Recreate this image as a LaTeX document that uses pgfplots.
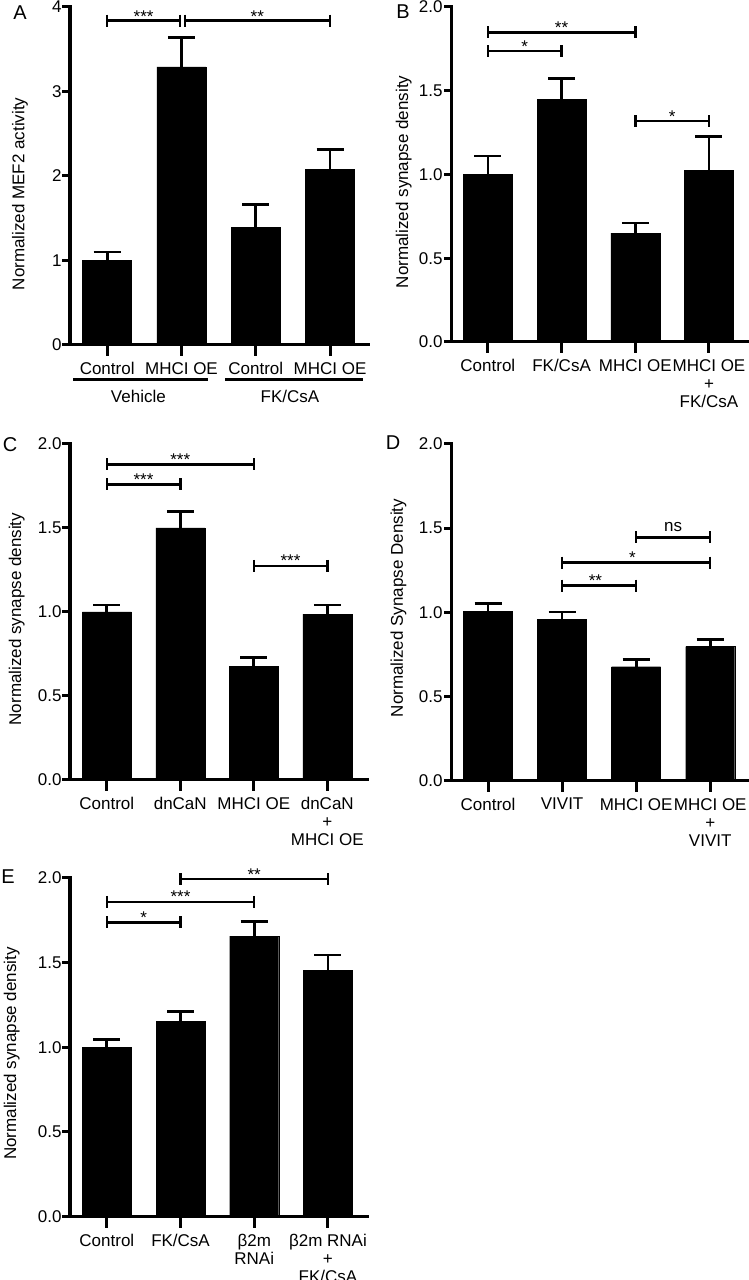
\documentclass[border=0pt]{standalone}
\usepackage{fontspec}
\setmainfont{Liberation Sans}
\usepackage{pgfplots}
\pgfplotsset{compat=1.18}
\newcommand\lbl{\fontsize{17bp}{18bp}\selectfont}
\newcommand\pl{\fontsize{20bp}{22bp}\selectfont}
\pgfplotsset{
  gp/.style={
    scale only axis,
    axis line style={draw=none},
    clip=false,
    ymin=0, xmin=-0.5,
    xtick={0,1,2,3},
    xtick pos=left, ytick pos=left,
    major tick length=0bp,
    /pgf/number format/assume math mode=true,
    tick label style={font=\lbl,fill=none},
    label style={font=\lbl},
    xticklabel style={align=center,yshift=-14bp},
    yticklabel style={xshift=-5bp,/pgf/number format/fixed,/pgf/number format/precision=1,/pgf/number format/fixed zerofill},
  },
  ticksA/.style={after end axis/.code={%
    \draw[line width=3bp,line cap=rect] (rel axis cs:0,1) -- (rel axis cs:0,0) -- (rel axis cs:1,0);
    \pgfplotsinvokeforeach{0,1,2,3}{\draw[line width=3bp] (axis cs:####1,0) -- ++(0bp,-11.5bp);}
    \pgfplotsinvokeforeach{0,1,2,3,4}{\draw[line width=3bp] (axis cs:-0.5,####1) -- ++(-7.5bp,0bp);}}},
  ticksB/.style={after end axis/.code={%
    \draw[line width=3bp,line cap=rect] (rel axis cs:0,1) -- (rel axis cs:0,0) -- (rel axis cs:1,0);
    \pgfplotsinvokeforeach{0,1,2,3}{\draw[line width=3bp] (axis cs:####1,0) -- ++(0bp,-11.5bp);}
    \pgfplotsinvokeforeach{0,0.5,1,1.5,2}{\draw[line width=3bp] (axis cs:-0.5,####1) -- ++(-7.5bp,0bp);}}},
  bars/.style={ybar, bar width=49bp, fill=black, draw=black, line width=0.4bp,
    error bars/.cd, y dir=plus, y explicit,
    error bar style={line width=2.7bp,black},
    error mark options={rotate=90,line width=2.7bp,black,mark size=13.5bp}},
  sig/.style={sharp plot, black, line width=2.5bp, mark=|, mark size=6bp, mark options={solid,line width=2.5bp}, forget plot},
}
\begin{document}
\begin{tikzpicture}
\useasboundingbox (0bp,0bp) rectangle (749bp,1280bp);
% ---------------- A
\begin{axis}[gp, ticksA, at={(70bp,935bp)}, anchor=south west, width=298bp, height=338bp,
  xmax=3.51, ymax=4, ytick={0,1,2,3,4},
  yticklabel style={/pgf/number format/precision=0,/pgf/number format/fixed zerofill=false},
  xticklabels={Control, MHCI OE, Control, MHCI OE},
  ylabel={Normalized MEF2 activity},
  ylabel style={at={(rel axis cs:-0.168,0.447)}, anchor=center}]
\addplot[bars] table[x=x,y=y,y error=e]{
x y e
0 1.00 0.10
1 3.29 0.35
2 1.39 0.27
3 2.08 0.23
};
\addplot[sig] coordinates {(0,3.84) (0.98,3.84)};
\addplot[sig] coordinates {(1.05,3.84) (3,3.84)};
\node[anchor=base,font=\lbl] at (axis cs:0.49,3.82) {***};
\node[anchor=base,font=\lbl] at (axis cs:2.02,3.82) {**};
\draw[line width=3bp] (axis cs:-0.457,-0.414) -- (axis cs:1.357,-0.414);
\draw[line width=3bp] (axis cs:1.586,-0.414) -- (axis cs:3.44,-0.414);
\node[font=\lbl] at (axis cs:0.42,-0.604) {Vehicle};
\node[font=\lbl] at (axis cs:2.46,-0.604) {FK/CsA};
\end{axis}
% ---------------- B
\begin{axis}[gp, ticksB, at={(451bp,938bp)}, anchor=south west, width=296bp, height=335bp,
  xmax=3.516, ymax=2, ytick={0,0.5,1,1.5,2},
  xticklabels={Control, FK/CsA, MHCI OE, {MHCI OE\\+\\FK/CsA}},
  ylabel={Normalized synapse density},
  ylabel style={at={(rel axis cs:-0.160,0.478)}, anchor=center}]
\addplot[bars] table[x=x,y=y,y error=e]{
x y e
0 1.00 0.11
1 1.45 0.125
2 0.65 0.06
3 1.025 0.20
};
\addplot[sig] coordinates {(0,1.849) (2,1.849)};
\addplot[sig] coordinates {(0,1.737) (1,1.737)};
\addplot[sig] coordinates {(2,1.319) (3,1.319)};
\node[anchor=base,font=\lbl] at (axis cs:1,1.843) {**};
\node[anchor=base,font=\lbl] at (axis cs:0.5,1.731) {*};
\node[anchor=base,font=\lbl] at (axis cs:2.5,1.313) {*};
\end{axis}
% ---------------- C
\begin{axis}[gp, ticksB, at={(70bp,500bp)}, anchor=south west, width=297bp, height=336bp,
  xmax=3.54, ymax=2, ytick={0,0.5,1,1.5,2},
  xticklabels={Control, dnCaN, MHCI OE, {dnCaN\\+\\MHCI OE}},
  ylabel={Normalized synapse density},
  ylabel style={at={(rel axis cs:-0.179,0.479)}, anchor=center}]
\addplot[bars] table[x=x,y=y,y error=e]{
x y e
0 1.00 0.042
1 1.50 0.10
2 0.675 0.055
3 0.988 0.054
};
\addplot[sig] coordinates {(0,1.879) (2,1.879)};
\addplot[sig] coordinates {(0,1.760) (1,1.760)};
\addplot[sig] coordinates {(2,1.274) (3,1.274)};
\node[anchor=base,font=\lbl] at (axis cs:1,1.873) {***};
\node[anchor=base,font=\lbl] at (axis cs:0.5,1.754) {***};
\node[anchor=base,font=\lbl] at (axis cs:2.5,1.268) {***};
\end{axis}
% ---------------- D
\begin{axis}[gp, ticksB, at={(451bp,499.3bp)}, anchor=south west, width=297bp, height=336.7bp,
  xmax=3.51, ymax=2, ytick={0,0.5,1,1.5,2},
  xticklabels={Control, VIVIT, MHCI OE, {MHCI OE\\+\\VIVIT}},
  ylabel={Normalized Synapse Density},
  ylabel style={at={(rel axis cs:-0.177,0.513)}, anchor=center}]
\addplot[bars] table[x=x,y=y,y error=e]{
x y e
0 1.005 0.047
1 0.96 0.042
2 0.677 0.044
3 0.797 0.04
};
\addplot[sig] coordinates {(2,1.446) (3,1.446)};
\addplot[sig] coordinates {(1,1.295) (3,1.295)};
\addplot[sig] coordinates {(1,1.158) (2,1.158)};
\node[anchor=base,font=\lbl,yshift=6bp] at (axis cs:2.5,1.446) {ns};
\node[anchor=base,font=\lbl] at (axis cs:1.95,1.289) {*};
\node[anchor=base,font=\lbl] at (axis cs:1.45,1.152) {**};
\end{axis}
% ---------------- E
\begin{axis}[gp, ticksB, at={(70bp,63.3bp)}, anchor=south west, width=297bp, height=339bp,
  xmax=3.53, ymax=2, ytick={0,0.5,1,1.5,2},
  xticklabels={Control, FK/CsA, {β2m\\RNAi}, {β2m RNAi\\+\\FK/CsA}},
  ylabel={Normalized synapse density},
  ylabel style={at={(rel axis cs:-0.196,0.481)}, anchor=center}]
\addplot[bars] table[x=x,y=y,y error=e]{
x y e
0 1.00 0.047
1 1.154 0.055
2 1.656 0.084
3 1.455 0.089
};
\addplot[sig] coordinates {(1,1.992) (3,1.992)};
\addplot[sig] coordinates {(0,1.858) (2,1.858)};
\addplot[sig] coordinates {(0,1.736) (1,1.736)};
\node[anchor=base,font=\lbl] at (axis cs:2,1.986) {**};
\node[anchor=base,font=\lbl] at (axis cs:1,1.852) {***};
\node[anchor=base,font=\lbl] at (axis cs:0.5,1.730) {*};
\end{axis}
% panel letters
\node[font=\pl] at (20bp,1267bp) {A};
\node[font=\pl] at (403bp,1268bp) {B};
\node[font=\pl] at (10bp,835bp) {C};
\node[font=\pl] at (393bp,837bp) {D};
\node[font=\pl] at (8bp,403bp) {E};
\end{tikzpicture}
\end{document}
